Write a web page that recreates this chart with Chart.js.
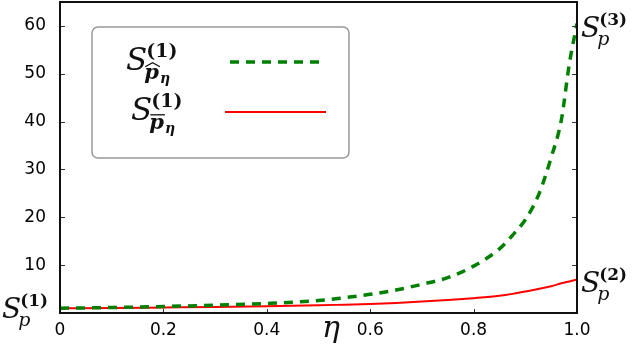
<!DOCTYPE html>
<html>
<head>
<meta charset="utf-8">
<script src="https://cdn.jsdelivr.net/npm/chart.js@4.4.1/dist/chart.umd.min.js"></script>
<style>
  html, body { margin: 0; padding: 0; background: #fff; }
  #wrap { width: 640px; height: 347px; position: relative; }
</style>
</head>
<body>
<div id="wrap"><canvas id="chart"></canvas></div>
<script>
// values
const eta = [0, 0.1, 0.2, 0.3, 0.4, 0.5, 0.55, 0.6, 0.65, 0.7, 0.75, 0.8, 0.85, 0.875, 0.9, 0.925, 0.95, 0.97, 0.985, 1.0]
const hatS = [1.0, 1.15, 1.35, 1.65, 2.0, 2.6, 3.2, 3.9, 4.8, 6.0, 7.4, 9.8, 13.4, 16.2, 19.5, 24.5, 32.5, 40.5, 52, 60.5]
const barS = [1.0, 1.05, 1.15, 1.25, 1.4, 1.6, 1.75, 1.9, 2.1, 2.4, 2.7, 3.1, 3.6, 4.0, 4.5, 5.0, 5.6, 6.2, 6.6, 7.0]
const xTicks = ['0', '0.2', '0.4', '0.6', '0.8', '1.0']
const yTicks = [10, 20, 30, 40, 50, 60]

const toPts = (ys) => eta.map((x, i) => ({ x: x, y: ys[i] }))

const SERIF = '"DejaVu Serif", "Liberation Serif", serif'

// S with superscript and subscript, drawn like a TeX label
function mathS(ctx, x, y, size, sup, sub, subMark) {
  ctx.save()
  ctx.fillStyle = '#111'
  ctx.textBaseline = 'alphabetic'
  ctx.textAlign = 'left'
  ctx.font = 'italic ' + size + 'px ' + SERIF
  ctx.fillText('S', x, y)
  const w = ctx.measureText('S').width
  ctx.font = 'bold ' + Math.round(size * 0.62) + 'px ' + SERIF
  ctx.fillText(sup, x + w - 1, y - size * 0.42)
  ctx.font = (subMark ? 'italic bold ' : 'italic ') + Math.round(size * 0.68) + 'px ' + SERIF
  const sx = x + w - 3, sy = y + size * 0.3
  ctx.fillText(sub, sx, sy)
  const pw = ctx.measureText(sub).width
  if (subMark) {
    ctx.font = 'italic bold ' + Math.round(size * 0.45) + 'px ' + SERIF
    ctx.fillText('η', sx + pw + 1, sy + size * 0.12)
    ctx.strokeStyle = '#111'
    ctx.lineWidth = 1.3
    ctx.beginPath()
    const top = sy - size * 0.5
    if (subMark === 'hat') {
      ctx.moveTo(sx + 1, top + 3)
      ctx.lineTo(sx + pw / 2 + 1, top - 1)
      ctx.lineTo(sx + pw + 1, top + 3)
    } else {
      ctx.moveTo(sx + 1, top + 1)
      ctx.lineTo(sx + pw + 1, top + 1)
    }
    ctx.stroke()
  }
  ctx.restore()
}

const decor = {
  id: 'decor',
  afterDatasetsDraw(chart) {
    const ctx = chart.ctx
    const a = chart.chartArea
    const xs = chart.scales.x, ys = chart.scales.y
    ctx.save()
    // inward tick marks
    ctx.strokeStyle = '#333'
    ctx.lineWidth = 1
    ctx.beginPath()
    for (let v = 0.2; v < 1; v += 0.2) {
      const px = Math.round(xs.getPixelForValue(v)) + 0.5
      ctx.moveTo(px, a.bottom); ctx.lineTo(px, a.bottom - 4)
    }
    yTicks.forEach(v => {
      const py = Math.round(ys.getPixelForValue(v)) + 0.5
      ctx.moveTo(a.left, py); ctx.lineTo(a.left + 5, py)
      ctx.moveTo(a.right, py); ctx.lineTo(a.right - 5, py)
    })
    ctx.stroke()
    // frame
    ctx.strokeStyle = '#111'
    ctx.lineWidth = 2
    ctx.strokeRect(a.left, a.top, a.right - a.left, a.bottom - a.top)

    // legend box
    ctx.strokeStyle = '#999'
    ctx.lineWidth = 1.5
    ctx.fillStyle = '#fff'
    ctx.beginPath()
    ctx.roundRect(92, 27, 257, 131, 6)
    ctx.fill()
    ctx.stroke()
    mathS(ctx, 126, 70, 31, '(1)', 'p', 'hat')
    mathS(ctx, 131, 120, 31, '(1)', 'p', 'bar')
    const d0 = chart.data.datasets[0], d1 = chart.data.datasets[1]
    ctx.lineWidth = d0.borderWidth
    ctx.strokeStyle = d0.borderColor
    ctx.setLineDash(d0.borderDash)
    ctx.beginPath(); ctx.moveTo(230, 62); ctx.lineTo(324, 62); ctx.stroke()
    ctx.setLineDash([])
    ctx.lineWidth = d1.borderWidth
    ctx.strokeStyle = d1.borderColor
    ctx.beginPath(); ctx.moveTo(225, 112); ctx.lineTo(326, 112); ctx.stroke()

    // endpoint labels
    mathS(ctx, 2, 318, 28, '(1)', 'p')
    mathS(ctx, 581, 292, 28, '(2)', 'p')
    mathS(ctx, 581, 37, 28, '(3)', 'p')

    // axis title
    ctx.fillStyle = '#111'
    ctx.font = 'italic 30px ' + SERIF
    ctx.textAlign = 'center'
    ctx.textBaseline = 'alphabetic'
    ctx.fillText('η', 331, 337)
    ctx.restore()
  }
}

new Chart(document.getElementById('chart'), {
  type: 'line',
  data: {
    datasets: [
      {
        label: 'hat',
        data: toPts(hatS),
        borderColor: 'rgb(0,128,0)',
        borderWidth: 3.5,
        borderDash: [9, 7],
        pointRadius: 0,
        fill: false,
        cubicInterpolationMode: 'monotone'
      },
      {
        label: 'bar',
        data: toPts(barS),
        borderColor: 'rgb(255,0,0)',
        borderWidth: 2,
        pointRadius: 0,
        fill: false,
        cubicInterpolationMode: 'monotone'
      }
    ]
  },
  options: {
    responsive: true,
    maintainAspectRatio: false,
    animation: false,
    layout: { padding: { top: 2, right: 0, left: 0, bottom: 0 } },
    plugins: { legend: { display: false }, tooltip: { enabled: false } },
    scales: {
      x: {
        type: 'linear',
        min: 0, max: 1,
        grid: { display: false },
        border: { display: false },
        afterFit: (s) => { s.height = 34; s.paddingLeft = 0; s.paddingRight = 0 },
        ticks: {
          stepSize: 0.2,
          padding: -1,
          color: '#000',
          font: { family: '"DejaVu Sans"', size: 17 },
          maxRotation: 0,
          callback: (v, i) => xTicks[i]
        }
      },
      y: {
        min: 0, max: 65,
        grid: { display: false },
        border: { display: false },
        afterFit: (s) => { s.width = 60; s.paddingTop = 0; s.paddingBottom = 0 },
        ticks: {
          stepSize: 10,
          padding: 6,
          color: '#000',
          font: { family: '"DejaVu Sans"', size: 17 },
          callback: (v) => (yTicks.includes(v) ? v : '')
        }
      },
      y2: {
        position: 'right',
        min: 0, max: 65,
        grid: { display: false },
        border: { display: false },
        ticks: { display: false },
        afterFit: (s) => { s.width = 63; s.paddingTop = 0; s.paddingBottom = 0 }
      }
    }
  },
  plugins: [decor]
})
</script>
</body>
</html>
